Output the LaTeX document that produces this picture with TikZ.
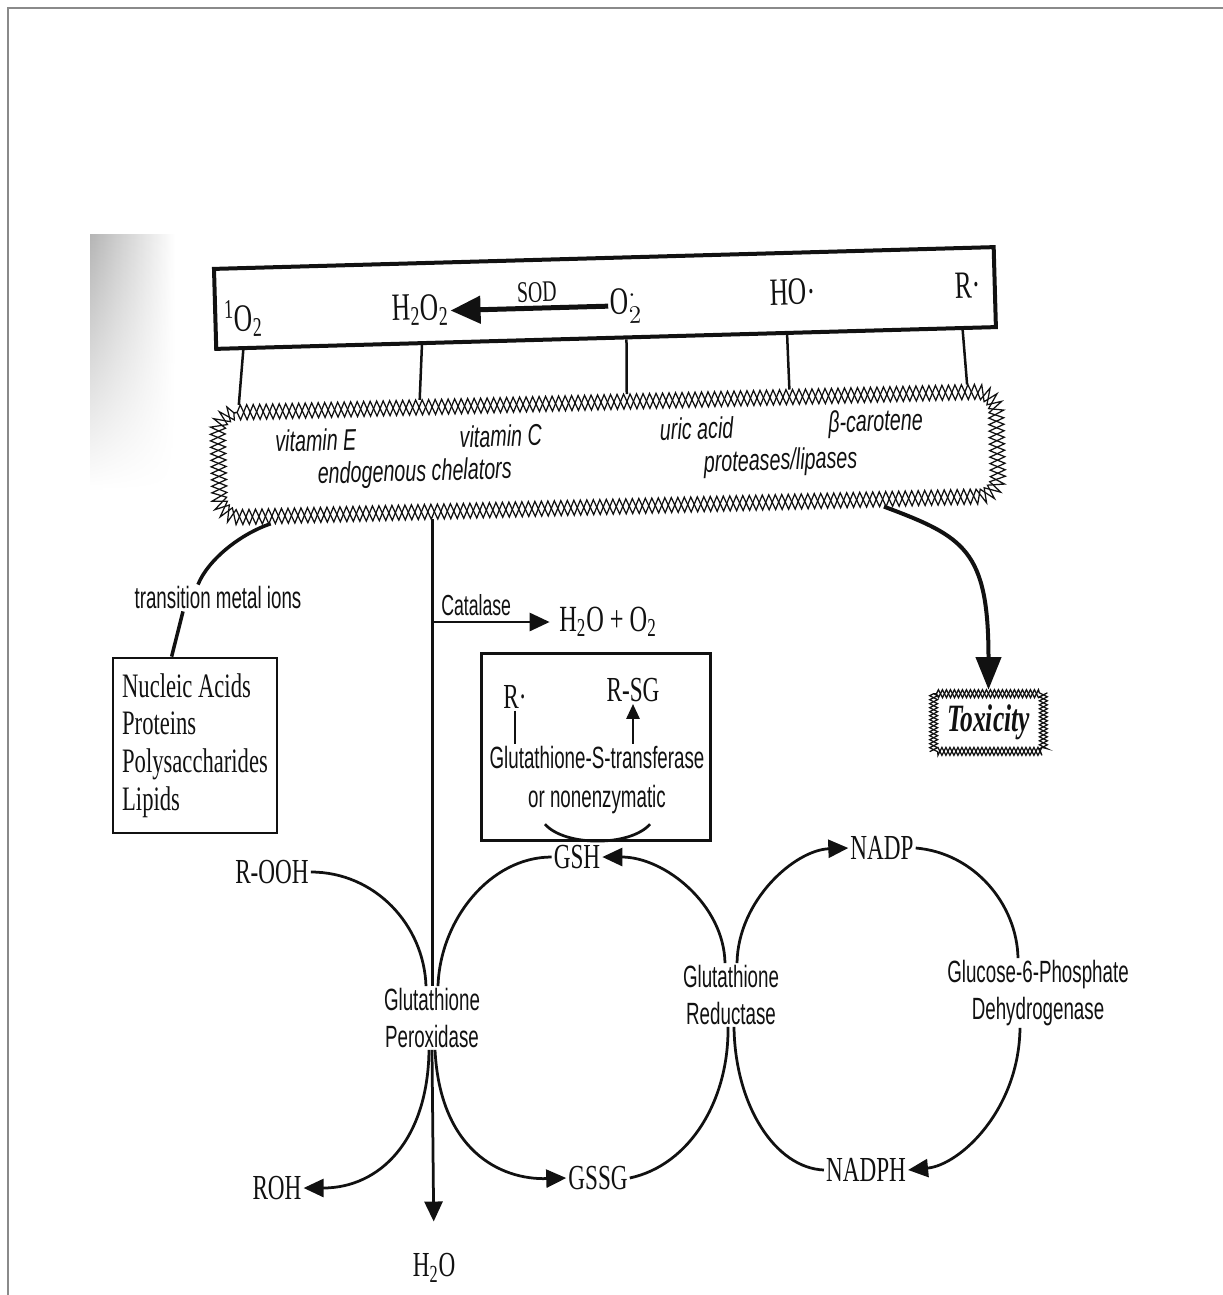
\documentclass[tikz,border=0pt]{standalone}
\usepackage{fontspec}
\setmainfont{Liberation Serif}
\newfontfamily\chemfont{Liberation Serif}[FakeStretch=0.66]
\newfontfamily\enzfont{Liberation Sans}[FakeStretch=0.61]
\newfontfamily\antifont{Liberation Sans}[FakeStretch=0.66]
\usetikzlibrary{arrows.meta,positioning,calc,decorations.pathmorphing,fadings}
\definecolor{ink}{HTML}{111111}
\definecolor{framec}{HTML}{8A8A8A}
\definecolor{scanc}{HTML}{B5B5B5}

\begin{document}
\begin{tikzpicture}[
  x=0.2mm, y=-0.2mm,
  >={Triangle[length=4mm,width=3.6mm]},
  chem/.style={font=\chemfont\fontsize{20}{24}\selectfont,text=ink,inner sep=1pt},
  topchem/.style={font=\chemfont\fontsize{22}{26}\selectfont,text=ink,inner sep=1pt,text height=5.5mm,text depth=2mm,anchor=base},
  enz/.style={font=\enzfont\fontsize{17.5}{21}\selectfont,text=ink,align=center,inner sep=1pt},
  anti/.style={font=\antifont\itshape\fontsize{17}{19}\selectfont,text=ink,inner sep=0pt},
  flow/.style={draw=ink,line width=0.55mm},
  flowarrow/.style={flow,->},
  bar/.style={draw=ink,line width=0.5mm},
  xband/.style={draw=ink,line width=0.25mm,decorate,decoration={zigzag,segment length=2.6mm}},
  toxband/.style={draw=ink,line width=0.25mm,decorate,decoration={zigzag,segment length=1.6mm}},
]
\useasboundingbox (0,0) rectangle (1223,1295);

% ===================== PAGE FRAME AND SCAN SHADOW =====================
\draw[framec,line width=0.4mm] (8,1295) -- (8,8) -- (1223,8);
\shade[left color=scanc,right color=white,path fading=south] (90,235) rectangle (175,490);

% ===================== RADICALS AND ANTIOXIDANT RING (tilted as scanned) =====================
\begin{scope}[rotate around={1.6:(605,300)},transform shape]
  \node[draw=ink,line width=0.8mm,minimum width=156mm,minimum height=16mm,inner sep=0pt] (radbox) at (605,298) {};
  \node[topchem] (singo) at (243,321) {\textsuperscript{1}O\textsubscript{2}};
  \node[topchem] (hperox) at (420,315) {H\textsubscript{2}O\textsubscript{2}};
  \node[topchem] (superox) at (626,315) {O$^{\cdot}_{2}$};
  \node[topchem] (hydrox) at (793,310) {HO·};
  \node[topchem] (alkyl) at (968,308) {R·};
  \draw[draw=ink,line width=1mm,-{Triangle[length=6mm,width=5.4mm]}] (superox.west)
    -- node[above=0.3mm,pos=0.45,font=\chemfont\fontsize{17}{20}\selectfont,text=ink,inner sep=1pt] {SOD} (hperox.east);

  % ring of antioxidant defences
  \node[minimum width=158.6mm,minimum height=23.8mm,inner sep=0pt] (ring) at (603.5,454.5) {};
  \foreach \amp in {1.5mm,-1.5mm}
    \draw[xband,decoration={amplitude=\amp}]
      ([xshift=5.5mm,yshift=-1.5mm]ring.north west)
      -- ([xshift=-5.5mm,yshift=-1.5mm]ring.north east) arc[start angle=90,end angle=0,radius=4mm]
      -- ([xshift=-1.5mm,yshift=5.5mm]ring.south east) arc[start angle=0,end angle=-90,radius=4mm]
      -- ([xshift=5.5mm,yshift=1.5mm]ring.south west) arc[start angle=-90,end angle=-180,radius=4mm]
      -- ([xshift=1.5mm,yshift=-5.5mm]ring.north west) arc[start angle=180,end angle=90,radius=4mm];
  \node[anti] (vite) at (312,432) {vitamin E};
  \node[anti] (vitc) at (497,433) {vitamin C};
  \node[anti] (uric) at (693,431) {uric acid};
  \node[anti] (beta) at (872,431) {β-carotene};
  \node[anti] (chel) at (410,468) {endogenous chelators};
  \node[anti] (prot) at (776,467) {proteases/lipases};

  % bars from the radicals down to the ring
  \foreach \f in {0.037,0.265,0.526,0.731,0.955}
    \draw[bar] ($(radbox.south west)!\f!(radbox.south east)$) -- ($(ring.north west)!\f!(ring.north east)$);

  \coordinate (ringgp) at ($(ring.south west)!0.277!(ring.south east)$);
  \coordinate (ringtm) at ($(ring.south west)!0.073!(ring.south east)$);
  \coordinate (ringtox) at ($(ring.south west)!0.846!(ring.south east)$);
\end{scope}

% ===================== LEFT: METAL IONS AND TARGETS =====================
\node[enz] (metal) at (218,598) {transition metal ions};
\node[draw=ink,line width=0.55mm,minimum width=32.8mm,minimum height=35mm,align=left,
      font=\chemfont\fontsize{19.5}{21.5}\selectfont,text=ink] (targets) at (195,745.5)
  {Nucleic Acids\\Proteins\\Polysaccharides\\Lipids};
\draw[flow,line width=0.7mm] (ringtm) .. controls +(-6mm,-2mm) and +(2mm,5mm) .. ([xshift=-4mm]metal.north);
\draw[flow,line width=0.7mm] ([xshift=-7mm]metal.south) -- ([xshift=12mm]targets.north west);

% ===================== CENTRE: CATALASE AND GST BOX =====================
\node[chem,font=\chemfont\fontsize{21}{24}\selectfont] (wato) at (608,622) {H\textsubscript{2}O + O\textsubscript{2}};
\node[enz] (gpx) at (432,1018) {Glutathione\\Peroxidase};
\draw[flow] (ringgp) -- (ringgp |- gpx.north);
\coordinate (catf) at (ringgp |- wato.west);
\draw[flowarrow,shorten >=1.5mm] (catf) -- node[pos=0.35,above=0.6mm,enz,font=\enzfont\fontsize{16.5}{19}\selectfont] {Catalase} (wato.west);

\node[draw=ink,line width=0.6mm,minimum width=45.8mm,minimum height=37.4mm,inner sep=0pt] (gstbox) at (595.5,746.5) {};
\node[chem] (rgst) at (515,697) {R·};
\node[chem] (rsg) at (633,690) {R-SG};
\node[enz,font=\enzfont\fontsize{17.5}{22.5}\selectfont] (gstl) at (597,780) {Glutathione-S-transferase\\or nonenzymatic};
\draw[flow] (rgst.south) -- (rgst.south |- gstl.north);
\draw[flow,-{Triangle[length=3mm,width=2.6mm]}] (rsg.south |- gstl.north) -- (rsg.south);
\draw[flow] ([xshift=-10.4mm,yshift=-1.6mm]gstl.south) .. controls +(4mm,-4.5mm) and +(-4mm,-4.5mm) .. ([xshift=10.6mm,yshift=-1.6mm]gstl.south);

% ===================== TOXICITY =====================
\node[minimum width=23.4mm,minimum height=13mm,font=\chemfont\bfseries\itshape\fontsize{22}{26}\selectfont,text=ink] (tox) at (988.5,722.5) {Toxicity};
\foreach \amp in {0.8mm,-0.8mm}
  \draw[toxband,decoration={amplitude=\amp}] ([shift={(0.8mm,-0.8mm)}]tox.north west) rectangle ([shift={(-0.8mm,0.8mm)}]tox.south east);
\draw[draw=ink,line width=0.8mm,-{Triangle[length=6.5mm,width=5mm]}] (ringtox) .. controls +(16mm,-6mm) and +(0,28mm) .. (tox.north);

% ===================== GLUTATHIONE CYCLES =====================
\node[chem] (rooh) at (272,872) {R-OOH};
\node[chem] (gsh) at (577,857) {GSH};
\node[chem] (roh) at (277,1188) {ROH};
\node[chem] (gssg) at (598,1178) {GSSG};
\node[chem] (water) at (434,1268) {H\textsubscript{2}O};
\node[enz] (gr) at (731,995) {Glutathione\\Reductase};
\node[chem] (nadp) at (882,848) {NADP};
\node[enz] (gpd) at (1038,993) {Glucose-6-Phosphate\\Dehydrogenase};
\node[chem] (nadph) at (866,1170) {NADPH};

% peroxidase: R-OOH and GSH in, ROH, GSSG and water out
\draw[flow] (rooh.east) .. controls (375,872) and (424,925) .. ([xshift=-1.2mm]gpx.north);
\draw[flow] (gsh.west) .. controls (490,857) and (440,920) .. ([xshift=1.2mm]gpx.north);
\draw[flowarrow] ([xshift=-0.6mm]gpx.south) .. controls (428,1140) and (380,1188) .. (roh.east);
\draw[flowarrow] ([xshift=0.6mm]gpx.south) .. controls (440,1150) and (500,1180) .. (gssg.west);
\draw[flowarrow,shorten >=6mm] (gpx.south) -- (water.north);

% reductase: GSSG back to GSH, NADPH to NADP
\draw[flow] (gssg.east) .. controls (690,1165) and (729,1100) .. ([xshift=-0.6mm]gr.south);
\draw[flowarrow] ([xshift=-1.2mm]gr.north) .. controls (724,905) and (665,857) .. (gsh.east);
\draw[flowarrow] ([xshift=1.2mm]gr.north) .. controls (738,900) and (795,850) .. (nadp.west);
\draw[flow] (nadph.west) .. controls (775,1168) and (735,1105) .. ([xshift=0.6mm]gr.south);

% G6PD: NADP back to NADPH
\draw[flow] (nadp.east) .. controls (975,853) and (1017,905) .. ([xshift=-4mm]gpd.north);
\draw[flowarrow] ([xshift=-3.6mm]gpd.south) .. controls (1019,1110) and (960,1165) .. (nadph.east);

\end{tikzpicture}
\end{document}
